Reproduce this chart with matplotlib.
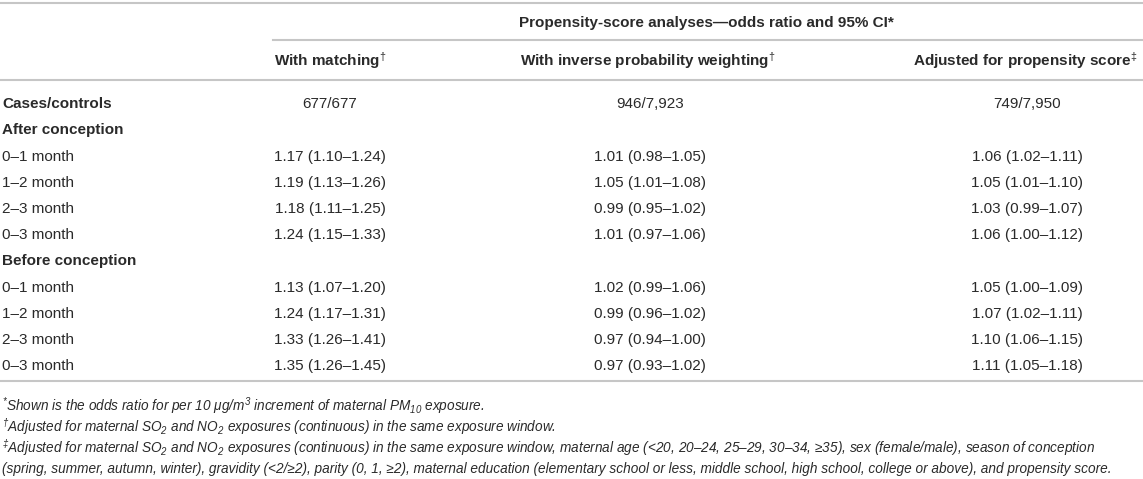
import matplotlib
matplotlib.use("Agg")
import matplotlib.pyplot as plt

plt.rcParams['font.family'] = ['Liberation Sans', 'DejaVu Sans']
plt.rcParams['mathtext.fontset'] = 'custom'
plt.rcParams['mathtext.rm'] = 'Liberation Sans:italic'
plt.rcParams['mathtext.it'] = 'Liberation Sans:italic'
plt.rcParams['mathtext.sf'] = 'Liberation Sans'
plt.rcParams['mathtext.bf'] = 'Liberation Sans:bold'

# datos de la tabla
grupos = ["After conception", "Before conception"]
ventanas = ["0–1 month", "1–2 month", "2–3 month", "0–3 month"]
casos = ["677/677", "946/7,923", "749/7,950"]

# odds ratio, ic inferior, ic superior  (matching, ipw, ajustado)
matching_or = [1.17, 1.19, 1.18, 1.24, 1.13, 1.24, 1.33, 1.35]
matching_lo = [1.10, 1.13, 1.11, 1.15, 1.07, 1.17, 1.26, 1.26]
matching_hi = [1.24, 1.26, 1.25, 1.33, 1.20, 1.31, 1.41, 1.45]

ipw_or = [1.01, 1.05, 0.99, 1.01, 1.02, 0.99, 0.97, 0.97]
ipw_lo = [0.98, 1.01, 0.95, 0.97, 0.99, 0.96, 0.94, 0.93]
ipw_hi = [1.05, 1.08, 1.02, 1.06, 1.06, 1.02, 1.00, 1.02]

ajus_or = [1.06, 1.05, 1.03, 1.06, 1.05, 1.07, 1.10, 1.11]
ajus_lo = [1.02, 1.01, 0.99, 1.00, 1.00, 1.02, 1.06, 1.05]
ajus_hi = [1.11, 1.10, 1.07, 1.12, 1.09, 1.11, 1.15, 1.18]

titulo = "Propensity-score analyses—odds ratio and 95% CI*"
columnas = ["With matching$^{\\mathsf{†}}$",
            "With inverse probability weighting$^{\\mathsf{†}}$",
            "Adjusted for propensity score$^{\\mathsf{‡}}$"]

notas = [
    "$^{*}$Shown is the odds ratio for per 10 $\\mu$g/m$^{3}$ increment of maternal PM$_{10}$ exposure.",
    "$^{†}$Adjusted for maternal SO$_{2}$ and NO$_{2}$ exposures (continuous) in the same exposure window.",
    "$^{‡}$Adjusted for maternal SO$_{2}$ and NO$_{2}$ exposures (continuous) in the same exposure window, "
    "maternal age (<20, 20–24, 25–29, 30–34, ≥35), sex (female/male), season of conception",
    "(spring, summer, autumn, winter), gravidity (<2/≥2), parity (0, 1, ≥2), maternal education "
    "(elementary school or less, middle school, high school, college or above), and propensity score.",
]

W, H = 1143, 479
fig = plt.figure(figsize=(W / 100, H / 100), dpi=100)
ax = fig.add_axes([0, 0, 1, 1])
ax.set_xlim(0, W)
ax.set_ylim(H, 0)
ax.axis("off")

texto = '#2a2a2a'
gris = '#c6c6c6'
fs = 11

# lineas horizontales
ax.plot([0, W], [3, 3], color=gris, lw=1.5)
ax.plot([273, W], [40, 40], color=gris, lw=1.5)
ax.plot([0, W], [80, 80], color=gris, lw=1.5)
ax.plot([0, W], [381, 381], color=gris, lw=1.5)

# encabezados
ax.text(706, 23, titulo, ha='center', va='center', fontsize=fs, fontweight='bold', color=texto)
xs_cab = [330, 648, 1025]
for x, c in zip(xs_cab, columnas):
    ax.text(x, 61, c, ha='center', va='center', fontsize=fs, fontweight='bold', color=texto)

# columnas de datos
xs_col = [330, 650, 1027]

# fila de casos/controles
ax.text(2, 104, "Cases/controls", ha='left', va='center', fontsize=fs, fontweight='bold', color=texto)
for x, c in zip(xs_col, casos):
    ax.text(x, 104, c, ha='center', va='center', fontsize=fs, color=texto)

# filas de datos
ys_grupo = [130, 261]
ys_filas = [157, 183, 209, 235, 288, 314, 340, 366]
series = [(matching_or, matching_lo, matching_hi),
          (ipw_or, ipw_lo, ipw_hi),
          (ajus_or, ajus_lo, ajus_hi)]

for g, yg in zip(grupos, ys_grupo):
    ax.text(2, yg, g, ha='left', va='center', fontsize=fs, fontweight='bold', color=texto)

for i, y in enumerate(ys_filas):
    ax.text(2, y, ventanas[i % 4], ha='left', va='center', fontsize=fs, color=texto)
    for x, (o, lo, hi) in zip(xs_col, series):
        ax.text(x, y, f"{o[i]:.2f} ({lo[i]:.2f}–{hi[i]:.2f})", ha='center', va='center',
                fontsize=fs, color=texto)

# notas al pie
ys_notas = [406, 427, 448, 469]
for y, n in zip(ys_notas, notas):
    ax.text(2, y, n, ha='left', va='center', fontsize=9.85, style='italic', color=texto)

fig.savefig("out.png", dpi=100)
